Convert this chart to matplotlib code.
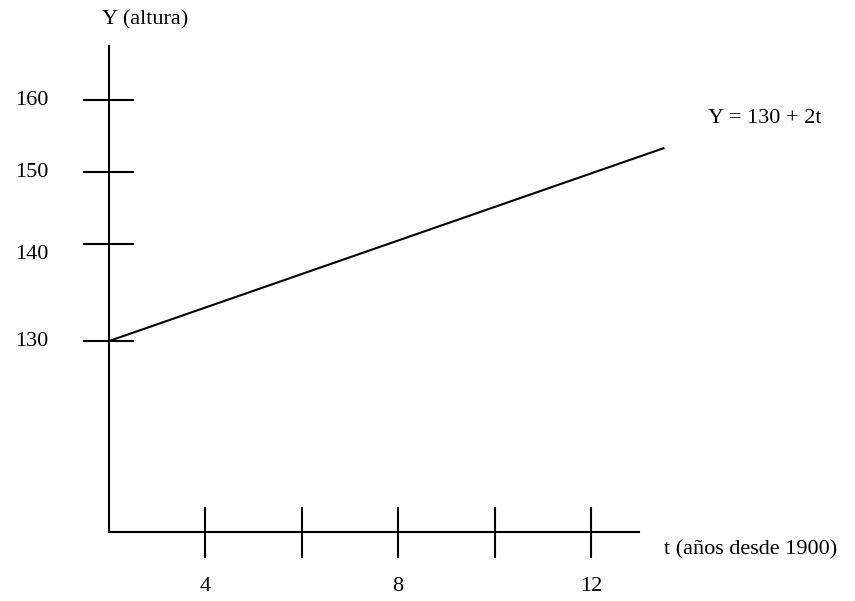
import matplotlib
matplotlib.use('Agg')
import matplotlib.pyplot as plt

# schematic: Y = 130 + 2t
y_labels = ['130', '140', '150', '160']
y_ticks = [126.5, 140, 150, 160]      # where the ticks sit in the drawing
x_ticks = [4, 6, 8, 10, 12]
x_labels = ['4', '', '8', '', '12']
line_t = [2, 13.5]
line_y = [126.5, 153.3]

t0, y0 = 2, 100          # origin of the drawn axes
t_end, y_top = 13, 167.5

plt.rcParams['font.family'] = 'Liberation Serif'
fig = plt.figure(figsize=(8.55, 6.01), dpi=100)
ax = fig.add_axes([0, 0, 1, 1])
ax.set_xlim(-0.249, 17.47)
ax.set_ylim(90.42, 173.89)
ax.axis('off')

lw = 1.5
ax.plot([t0, t0], [y0, y_top], color='black', lw=lw)
ax.plot([t0, t_end], [y0, y0], color='black', lw=lw)

for yt in y_ticks:
    ax.plot([t0 - 0.51, t0 + 0.51], [yt, yt], color='black', lw=lw)
for xt in x_ticks:
    ax.plot([xt, xt], [y0 - 3.4, y0 + 3.4], color='black', lw=lw)

ax.plot(line_t, line_y, color='black', lw=lw)

fs = 16
label_y = [126.4, 138.6, 150, 160]
for lab, ly in zip(y_labels, label_y):
    ax.text(0.75, ly, lab, ha='right', va='center', fontsize=fs)
for xt, lab in zip(x_ticks, x_labels):
    ax.text(xt, 92.4, lab, ha='center', va='center', fontsize=fs)

ax.text(2.76, 171.1, 'Y (altura)', ha='center', va='center', fontsize=fs)
ax.text(15.6, 157.4, 'Y = 130 + 2t', ha='center', va='center', fontsize=fs)
ax.text(15.3, 97.5, 't (años desde 1900)', ha='center', va='center', fontsize=fs)

fig.savefig('out.png', dpi=100)
